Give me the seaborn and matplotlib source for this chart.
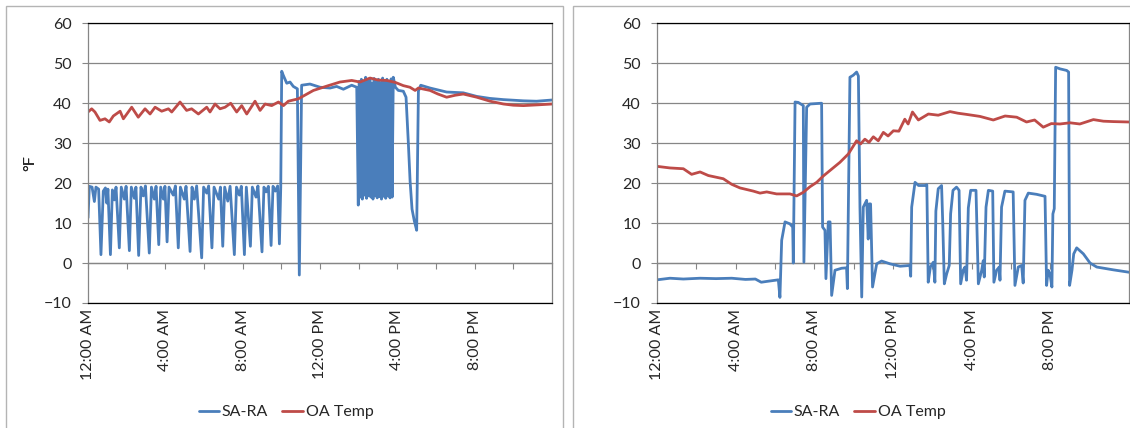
import matplotlib

matplotlib.use("Agg")
import matplotlib.pyplot as plt
import pandas as pd
import seaborn as sns
from matplotlib.patches import Rectangle

# ---- left panel: hours since midnight / degrees F ----
left_sa_hours = [
    0.0, 0.07, 0.21, 0.33, 0.41, 0.55, 0.67, 0.79, 0.9, 0.97, 1.03, 1.16, 1.26, 1.36,
    1.45, 1.62, 1.72, 1.88, 1.97, 2.14, 2.24, 2.4, 2.48, 2.62, 2.74, 2.86, 2.97, 3.17,
    3.28, 3.43, 3.52, 3.66, 3.76, 3.9, 3.98, 4.09, 4.19, 4.41, 4.52, 4.67, 4.78, 4.98,
    5.07, 5.28, 5.38, 5.5, 5.62, 5.88, 5.98, 6.14, 6.24, 6.41, 6.52, 6.76, 6.85, 6.97,
    7.07, 7.23, 7.35, 7.57, 7.68, 7.83, 7.93, 8.09, 8.19, 8.4, 8.5, 8.69, 8.79, 9.0,
    9.1, 9.21, 9.33, 9.47, 9.57, 9.69, 9.81, 9.9, 9.97,
    10.02, 10.1, 10.28, 10.45, 10.62, 10.83, 10.93, 11.05, 11.48, 12.0, 12.52, 12.86,
    13.21, 13.64, 13.9, 13.98,
    14.03, 14.08, 14.14, 14.19, 14.25, 14.3, 14.36, 14.41, 14.47, 14.52, 14.58, 14.63,
    14.69, 14.74, 14.8, 14.85, 14.91, 14.96, 15.02, 15.07, 15.13, 15.18, 15.24, 15.29,
    15.35, 15.4, 15.46, 15.51, 15.57, 15.62, 15.68, 15.73, 15.79,
    15.9, 16.05, 16.31, 16.45, 16.57, 16.66, 16.76, 16.88, 17.0, 17.09, 17.21, 17.69,
    18.55, 19.41, 20.11, 20.79, 21.49, 22.52, 23.2, 24.0,
]
left_sa_vals = [
    11.3, 19.2, 19.0, 15.4, 19.0, 18.5, 2.1, 18.0, 18.8, 15.0, 18.5, 2.1, 18.3, 15.8,
    19.0, 3.8, 19.0, 16.0, 19.2, 3.1, 19.0, 16.2, 19.0, 1.9, 19.0, 16.8, 19.3, 2.5,
    19.0, 16.0, 19.2, 4.6, 19.0, 16.0, 19.2, 5.3, 19.0, 17.0, 19.3, 3.8, 19.0, 16.0,
    19.2, 2.9, 19.0, 16.0, 19.3, 1.3, 19.0, 17.5, 19.3, 3.8, 19.0, 16.0, 19.0, 4.2,
    19.0, 15.5, 19.2, 2.1, 19.0, 17.0, 19.2, 2.1, 19.0, 4.2, 19.0, 16.5, 19.3, 2.8,
    19.0, 17.8, 19.2, 4.4, 19.2, 18.0, 19.3, 4.8, 19.0,
    48.0, 47.0, 45.0, 45.3, 44.2, 43.6, -3.0, 44.5, 44.8, 44.0, 43.8, 44.2,
    43.5, 44.5, 44.0, 14.5,
    45.5, 16.5, 46.0, 16.0, 45.0, 17.0, 46.5, 16.2, 45.5, 16.8, 46.0, 16.5,
    45.0, 16.0, 46.2, 16.8, 45.5, 16.3, 46.0, 16.6, 45.2, 16.0, 46.3, 16.7,
    45.6, 16.2, 46.0, 16.8, 45.4, 16.3, 46.1, 16.5, 46.5,
    44.0, 43.2, 43.0, 41.5, 30.0, 20.5, 13.5, 10.5, 8.2, 43.0, 44.5, 43.8,
    42.8, 42.6, 41.7, 41.2, 40.9, 40.6, 40.5, 40.8,
]
left_oa_hours = [
    0.0, 0.19, 0.36, 0.62, 0.88, 1.1, 1.31, 1.66, 1.83, 2.26, 2.6, 2.95, 3.21, 3.47,
    3.81, 4.16, 4.33, 4.76, 5.1, 5.36, 5.71, 6.14, 6.31, 6.57, 6.83, 7.09, 7.38, 7.69,
    7.95, 8.21, 8.64, 8.9, 9.16, 9.5, 9.85, 10.11, 10.36, 10.88, 11.66, 12.43, 13.03,
    13.64, 14.07, 14.59, 15.0, 15.45, 15.9, 16.31, 16.65, 16.92, 17.09, 17.69, 18.1,
    18.55, 19.0, 19.41, 20.11, 20.8, 21.49, 22.0, 22.52, 23.3, 24.0,
]
left_oa_vals = [
    37.8, 38.6, 37.8, 35.7, 36.1, 35.3, 36.8, 38.0, 36.1, 39.0, 36.5, 38.6, 37.3, 39.0,
    38.0, 38.6, 37.8, 40.3, 38.2, 38.6, 37.3, 39.0, 37.8, 39.8, 38.6, 39.0, 40.0, 37.8,
    39.4, 37.3, 40.5, 38.2, 39.8, 39.4, 40.3, 39.4, 40.5, 41.1, 43.2, 44.4, 45.3,
    45.7, 45.3, 46.3, 45.8, 45.7, 45.2, 44.4, 44.0, 43.2, 43.8, 43.2, 42.3,
    41.5, 42.0, 42.3, 41.5, 40.5, 39.8, 39.5, 39.4, 39.6, 39.8,
]

# ---- right panel ----
right_sa_hours = [
    0.0, 0.66, 1.34, 2.19, 3.0, 3.8, 4.5, 5.0, 5.3, 5.58, 6.17, 6.25, 6.34, 6.51, 6.76,
    6.9, 6.93, 7.02, 7.18, 7.44, 7.47, 7.61, 7.78, 8.37, 8.42, 8.54, 8.59, 8.71, 8.8,
    8.88, 9.05, 9.39, 9.64, 9.68, 9.81, 9.98, 10.15, 10.24, 10.32, 10.41, 10.49, 10.66,
    10.74, 10.79, 10.86, 10.96, 11.17, 11.42, 11.85, 12.36, 12.86, 12.9,
    12.95, 13.12, 13.3, 13.62, 13.72, 13.74, 13.79, 13.9, 14.05, 14.13, 14.18, 14.3,
    14.47, 14.53, 14.61, 14.73, 14.86, 14.93, 15.05, 15.23, 15.36, 15.44, 15.57, 15.66,
    15.74, 15.83, 15.95, 16.22, 16.34, 16.51, 16.59, 16.64, 16.73, 16.85, 17.07, 17.13,
    17.27, 17.4, 17.44, 17.52, 17.69, 18.11, 18.2, 18.37, 18.54, 18.62, 18.71, 18.88,
    19.3, 19.73, 19.81, 19.89, 19.98, 20.08, 20.13, 20.2, 20.27, 20.49, 20.83, 20.93,
    20.98, 21.1, 21.19, 21.34, 21.68, 22.02, 22.36, 23.2, 24.0,
]
right_sa_vals = [
    -4.2, -3.8, -4.0, -3.8, -3.9, -3.8, -4.1, -4.0, -4.8, -4.6, -4.2, -8.6, 5.7, 10.3, 9.8,
    9.0, 0.0, 40.3, 40.2, 39.4, 0.2, 39.0, 39.8, 40.0, 9.0, 8.2, -3.9, 10.3, 10.3,
    -8.1, -1.8, -1.3, -1.2, -6.4, 46.5, 47.0, 47.8, 46.8, 14.0, -8.5, 14.0, 15.7,
    6.0, 14.8, 14.8, -6.0, -0.2, 0.5, -0.2, -0.8, -0.6, -3.3,
    14.0, 20.2, 19.4, 19.4, 19.6, 13.0, -4.8, -1.0, 0.2, -4.8, 13.0, 18.6,
    19.4, 10.0, -5.2, -2.7, -0.6, 12.3, 18.2, 19.0, 18.2, -5.2, -1.8, -1.0,
    -4.3, 13.8, 18.2, 18.2, -5.2, -1.8, 0.6, -3.5, 14.0, 18.2, 18.0, -4.8,
    -1.8, -1.0, -4.3, 14.0, 18.0, 17.8, -5.6, -1.0, -0.6, -5.0, 15.7, 17.5,
    17.2, 16.7, -5.6, -1.8, -2.7, -6.0, 12.3, 13.6, 49.0, 48.6, 48.2, 47.8,
    -5.6, -1.8, 2.3, 3.8, 2.3, 0.0, -1.0, -1.7, -2.3,
]
right_oa_hours = [
    0.0, 0.66, 1.34, 1.76, 2.19, 2.61, 3.37, 3.8, 4.22, 4.9, 5.24, 5.58, 6.08, 6.76,
    7.1, 7.44, 7.78, 8.12, 8.46, 8.88, 9.3, 9.73, 10.15, 10.35, 10.57, 10.78, 11.0,
    11.25, 11.51, 11.75, 12.02, 12.3, 12.6, 12.77, 12.99, 13.29, 13.8, 14.3, 14.9,
    15.3, 15.74, 16.42, 17.1, 17.7, 18.29, 18.79, 19.2, 19.64, 20.05, 20.49, 21.0,
    21.5, 22.19, 22.7, 23.2, 24.0,
]
right_oa_vals = [
    24.2, 23.8, 23.6, 22.2, 22.8, 21.9, 21.1, 19.7, 18.8, 18.0, 17.5, 17.8, 17.3, 17.3,
    16.8, 17.7, 19.1, 20.2, 21.8, 23.5, 25.2, 27.3, 30.6, 29.8, 31.0, 30.2, 31.6,
    30.6, 32.7, 31.8, 33.1, 33.0, 36.0, 34.8, 37.8, 35.8, 37.3, 37.0, 37.9,
    37.5, 37.2, 36.7, 35.8, 36.8, 36.5, 35.3, 35.8, 34.0, 34.9, 34.8, 35.1,
    34.8, 35.9, 35.5, 35.4, 35.3,
]

series_names = ["SA-RA", "OA Temp"]
series_colors = ["#4A7EBB", "#BE4B48"]
y_ticks = [-10, 0, 10, 20, 30, 40, 50, 60]
x_tick_hours = [0, 4, 8, 12, 16, 20]
x_tick_labels = ["12:00 AM", "4:00 AM", "8:00 AM", "12:00 PM", "4:00 PM", "8:00 PM"]
minor_tick_hours = list(range(0, 25, 2))


def build_frame(sa_hours, sa_vals, oa_hours, oa_vals):
    sa = pd.DataFrame({"hour": sa_hours, "temp": sa_vals, "series": series_names[0]})
    oa = pd.DataFrame({"hour": oa_hours, "temp": oa_vals, "series": series_names[1]})
    return pd.concat([sa, oa], ignore_index=True)


sns.set_style("white")
plt.rcParams["font.family"] = ["Lato", "DejaVu Sans"]
font_size = 11.5

W, H = 1130, 428
fig = plt.figure(figsize=(W / 100, H / 100), dpi=100)

# light frames around each chart object
fig.add_artist(Rectangle((6 / W, -0.1), 557 / W, 1.1 - 6 / H, transform=fig.transFigure,
                         fill=False, edgecolor="#B4B4B4", linewidth=1.0))
fig.add_artist(Rectangle((573 / W, -0.1), 0.6, 1.1 - 6 / H, transform=fig.transFigure,
                         fill=False, edgecolor="#B4B4B4", linewidth=1.0))

panels = [
    (build_frame(left_sa_hours, left_sa_vals, left_oa_hours, left_oa_vals), 88, 552, 286),
    (build_frame(right_sa_hours, right_sa_vals, right_oa_hours, right_oa_vals), 657, 1129, 858),
]
palette = dict(zip(series_names, series_colors))

for data, x0, x1, legend_x in panels:
    ax = fig.add_axes([x0 / W, 1 - 303 / H, (x1 - x0) / W, (303 - 23.3) / H])
    sns.lineplot(data=data, x="hour", y="temp", hue="series", hue_order=series_names,
                 palette=palette, estimator=None, sort=False, linewidth=2.0, ax=ax)

    ax.set_xlim(0, 24)
    ax.set_ylim(-10, 60)
    ax.set_yticks(y_ticks)
    ax.set_xticks(x_tick_hours)
    ax.set_xticklabels(x_tick_labels, rotation=90)
    ax.tick_params(axis="x", length=0, pad=4.5, labelsize=font_size)
    ax.tick_params(axis="y", length=4.5, width=0.8, color="#868686", pad=7,
                   labelsize=font_size, left=True)
    ax.grid(axis="y", color="#868686", linewidth=0.9)
    ax.set_axisbelow(True)
    ax.set_xlabel("")
    ax.set_ylabel("°F", fontsize=font_size)
    ax.yaxis.set_label_coords((37 - x0) / (x1 - x0), 0.5)

    for side, color in [("top", "#000000"), ("bottom", "#000000"),
                        ("left", "#868686"), ("right", "#868686")]:
        ax.spines[side].set_color(color)
        ax.spines[side].set_linewidth(0.9)
        ax.spines[side].set_visible(True)

    # category axis crossing at 0 with tick marks
    zero_axis = ax.secondary_xaxis(10 / 70)
    zero_axis.set_xticks(minor_tick_hours)
    zero_axis.set_xticklabels([])
    zero_axis.tick_params(length=4.5, width=0.8, color="#868686", direction="out")
    zero_axis.spines["bottom"].set_color("#868686")
    zero_axis.spines["bottom"].set_linewidth(0.9)

    handles, labels = ax.get_legend_handles_labels()
    ax.legend(handles, labels, loc="center", bbox_to_anchor=(legend_x / W, 1 - 412 / H),
              bbox_transform=fig.transFigure, ncol=2, frameon=False, fontsize=font_size,
              handlelength=1.3, handletextpad=0.15, columnspacing=0.9)

fig.savefig("out.png", dpi=100)
plt.close(fig)
